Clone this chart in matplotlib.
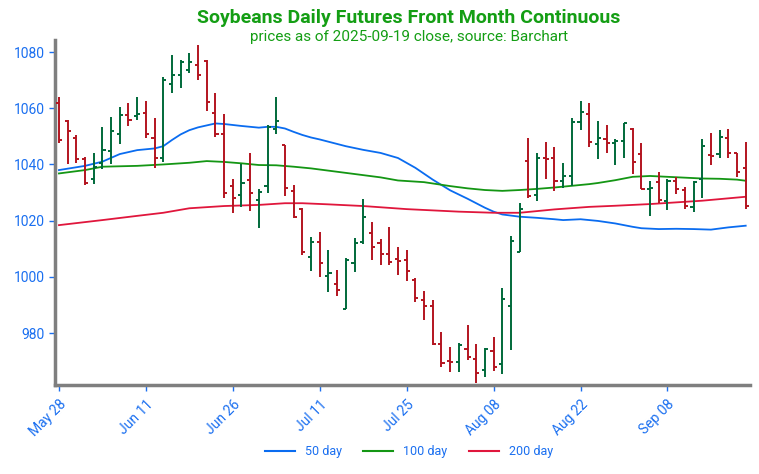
import matplotlib
matplotlib.use("Agg")
import matplotlib.pyplot as plt
from matplotlib.lines import Line2D
import numpy as np

plt.rcParams["font.family"] = ["Roboto", "DejaVu Sans"]

# daily OHLC, trading days May 28 .. Sep 19, 2025
opens = [1062.0, 1055.5, 1049.3, 1042.1, 1034.7, 1040.4, 1044.8, 1050.8, 1057.6, 1057.2,
         1058.2, 1049.3, 1042.2, 1068.6, 1071.9, 1073.6, 1075.4, 1076.7, 1058.2, 1051.0,
         1032.3, 1029.1, 1034.4, 1027.3, 1032.3, 1052.5, 1046.9, 1030.6, 1024.2, 1007.2,
         1012.5, 1000.3, 997.3, 988.5, 1005.0, 1012.5, 1015.7, 1011.9, 1008.1, 1006.2,
         1006.0, 998.9, 991.7, 989.6, 976.1, 970.1, 969.8, 974.2, 970.6, 966.8,
         973.6, 969.0, 989.6, 1008.9, 1041.3, 1029.3, 1042.4, 1042.2, 1034.2, 1036.0,
         1055.0, 1057.9, 1047.3, 1049.0, 1047.7, 1048.3, 1052.6, 1043.7, 1031.4, 1033.6,
         1027.1, 1034.2, 1030.9, 1024.7, 1034.8, 1043.3, 1043.6, 1049.3, 1044.2, 1038.6]
highs = [1064.1, 1056.0, 1050.5, 1042.7, 1043.9, 1053.2, 1056.8, 1060.5, 1061.7, 1063.9,
         1062.7, 1056.4, 1071.0, 1078.9, 1077.2, 1079.8, 1082.5, 1077.2, 1065.5, 1057.8,
         1034.7, 1040.1, 1044.2, 1031.2, 1054.0, 1064.1, 1046.9, 1032.7, 1024.4, 1014.1,
         1016.1, 1009.5, 1002.4, 1006.8, 1013.9, 1027.6, 1019.6, 1013.5, 1017.8, 1010.5,
         1009.5, 999.5, 995.1, 991.7, 980.5, 974.9, 976.6, 982.8, 976.1, 974.8,
         978.5, 995.9, 1014.6, 1026.4, 1049.3, 1043.9, 1047.9, 1046.1, 1040.4, 1056.6,
         1062.7, 1061.7, 1055.6, 1054.0, 1048.9, 1054.9, 1052.8, 1047.7, 1034.2, 1037.2,
         1035.0, 1035.6, 1032.1, 1034.1, 1048.9, 1051.3, 1052.2, 1052.6, 1044.2, 1047.9]
lows = [1047.5, 1040.1, 1040.6, 1032.7, 1033.0, 1038.3, 1040.1, 1047.3, 1053.7, 1055.8,
        1049.3, 1038.6, 1041.0, 1065.5, 1067.1, 1072.4, 1070.0, 1059.1, 1049.9, 1028.1,
        1022.8, 1024.9, 1023.5, 1017.3, 1029.9, 1050.8, 1028.8, 1020.8, 1007.8, 1002.2,
        999.8, 994.7, 993.2, 988.5, 1001.8, 1011.6, 1006.0, 1004.2, 1004.2, 1000.6,
        998.6, 991.2, 984.6, 975.7, 968.0, 966.2, 966.2, 970.4, 962.1, 964.2,
        966.5, 965.4, 973.9, 1008.9, 1028.1, 1027.1, 1034.7, 1030.5, 1031.5, 1032.4,
        1052.2, 1046.3, 1041.9, 1044.2, 1039.8, 1042.2, 1036.6, 1031.1, 1021.6, 1026.2,
        1023.8, 1029.5, 1024.0, 1023.2, 1027.9, 1039.8, 1042.2, 1042.2, 1035.6, 1024.1]
closes = [1048.7, 1052.0, 1041.9, 1033.5, 1039.0, 1045.1, 1052.0, 1057.5, 1056.0, 1057.9,
          1050.7, 1042.2, 1070.0, 1071.9, 1076.4, 1076.5, 1071.8, 1062.3, 1051.0, 1029.7,
          1027.9, 1033.3, 1029.9, 1030.3, 1053.4, 1055.6, 1031.5, 1021.2, 1008.9, 1012.5,
          1004.8, 1001.5, 995.3, 1006.0, 1012.1, 1021.2, 1010.5, 1008.1, 1005.4, 1005.8,
          1002.2, 992.4, 989.6, 976.1, 969.4, 969.8, 975.6, 971.6, 965.6, 974.2,
          968.0, 992.0, 1012.9, 1024.1, 1028.8, 1042.4, 1041.8, 1034.2, 1036.0, 1055.0,
          1058.5, 1047.9, 1049.5, 1047.7, 1048.3, 1054.9, 1041.0, 1031.4, 1031.7, 1027.3,
          1034.2, 1031.2, 1025.3, 1033.6, 1046.5, 1043.0, 1049.9, 1043.9, 1037.4, 1025.3]

# moving averages, read at selected trading-day positions
ma50_idx = [0, 3, 5, 7, 9, 11, 12, 13, 14, 15, 16, 18, 19, 21, 23, 24, 25, 26, 27, 28,
            29, 30, 31, 33, 35, 37, 39, 41, 43, 45, 47, 49, 50, 51, 53, 55, 57, 58, 60,
            62, 64, 66, 67, 69, 71, 73, 75, 77, 79]
ma50 = [1038.0, 1039.5, 1041.0, 1043.7, 1045.1, 1045.7, 1046.5, 1048.7, 1050.7, 1052.2,
        1053.2, 1054.6, 1054.4, 1053.7, 1053.1, 1053.4, 1053.4, 1052.8, 1051.6, 1050.5,
        1049.6, 1048.9, 1048.1, 1046.5, 1045.2, 1044.1, 1042.3, 1038.8, 1034.6, 1030.8,
        1027.8, 1024.6, 1023.2, 1022.2, 1021.4, 1021.0, 1020.5, 1020.2, 1020.5,
        1019.9, 1019.0, 1017.8, 1017.3, 1017.0, 1017.1, 1017.0, 1016.8, 1017.6, 1018.2]
ma100_idx = [0, 3, 5, 9, 12, 15, 17, 19, 21, 23, 25, 27, 29, 31, 34, 37, 39, 42, 45, 47,
             49, 51, 53, 55, 57, 59, 61, 62, 64, 66, 68, 70, 72, 74, 76, 78, 79]
ma100 = [1036.8, 1038.0, 1039.2, 1039.5, 1040.0, 1040.6, 1041.2, 1040.9, 1040.4, 1039.8,
         1039.7, 1039.2, 1038.6, 1037.8, 1036.6, 1035.4, 1034.3, 1033.7, 1032.3, 1031.5,
         1030.9, 1030.6, 1030.9, 1031.3, 1031.8, 1032.4, 1033.0, 1033.4, 1034.4, 1035.6,
         1035.9, 1035.6, 1035.3, 1035.0, 1034.9, 1034.6, 1034.2]
ma200_idx = [0, 5, 9, 12, 15, 19, 23, 26, 28, 31, 35, 40, 46, 50, 53, 57, 61, 64, 68, 74, 79]
ma200 = [1018.4, 1020.2, 1021.7, 1022.8, 1024.4, 1025.2, 1025.6, 1026.2, 1026.2, 1025.8,
         1025.2, 1024.1, 1023.2, 1022.8, 1022.8, 1024.0, 1024.9, 1025.3, 1025.9, 1027.1, 1028.5]

tick_idx = [0, 10, 20, 30, 40, 50, 60, 70]
tick_labels = ["May 28", "Jun 11", "Jun 26", "Jul 11", "Jul 25", "Aug 08", "Aug 22", "Sep 08"]
y_ticks = [980, 1000, 1020, 1040, 1060, 1080]

UP = "#00693a"
DOWN = "#b3141f"
BLUE = "#0a6cf0"
GREEN = "#149614"
RED = "#e0163c"
TXT = "#1a6ff0"

fig = plt.figure(figsize=(7.59, 4.74), dpi=100)
ax = fig.add_axes([0.0725, 0.1878, 0.9157, 0.7278])

x = np.arange(len(opens))
tw = 0.36
for i in x:
    c = UP if closes[i] >= opens[i] else DOWN
    ax.plot([i, i], [lows[i], highs[i]], color=c, lw=1.4, solid_capstyle="butt", zorder=3)
    ax.plot([i - tw, i], [opens[i], opens[i]], color=c, lw=1.4, solid_capstyle="butt", zorder=3)
    ax.plot([i, i + tw], [closes[i], closes[i]], color=c, lw=1.4, solid_capstyle="butt", zorder=3)

ax.plot(ma50_idx, ma50, color=BLUE, lw=1.3, zorder=2)
ax.plot(ma100_idx, ma100, color=GREEN, lw=1.3, zorder=2)
ax.plot(ma200_idx, ma200, color=RED, lw=1.3, zorder=2)

ax.set_xlim(-0.45, 79.5)
ax.set_ylim(961.5, 1084.3)
ax.set_xticks(tick_idx)
ax.set_xticklabels(tick_labels, rotation=45, ha="right", rotation_mode="anchor")
ax.set_yticks(y_ticks)
ax.tick_params(colors=TXT, labelsize=10, length=4, width=1)
ax.tick_params(axis="x", pad=5)

for s in ("top", "right"):
    ax.spines[s].set_visible(False)
for s in ("left", "bottom"):
    ax.spines[s].set_color("#7f7f7f")
    ax.spines[s].set_linewidth(2.5)

fig.text(0.539, 0.961, "Soybeans Daily Futures Front Month Continuous", ha="center", va="center",
         fontsize=14, fontweight="bold", color="#149e14")
fig.text(0.539, 0.922, "prices as of 2025-09-19 close, source: Barchart", ha="center", va="center",
         fontsize=11, color="#149e14")

handles = [Line2D([], [], color=BLUE, lw=1.5),
           Line2D([], [], color=GREEN, lw=1.5),
           Line2D([], [], color=RED, lw=1.5)]
leg = fig.legend(handles, ["50 day", "100 day", "200 day"], loc="center", ncol=3,
                 bbox_to_anchor=(0.539, 0.047), frameon=False, fontsize=9,
                 handlelength=2.4, columnspacing=1.7, handletextpad=0.8)
for t in leg.get_texts():
    t.set_color(TXT)

fig.savefig("out.png", dpi=100)
